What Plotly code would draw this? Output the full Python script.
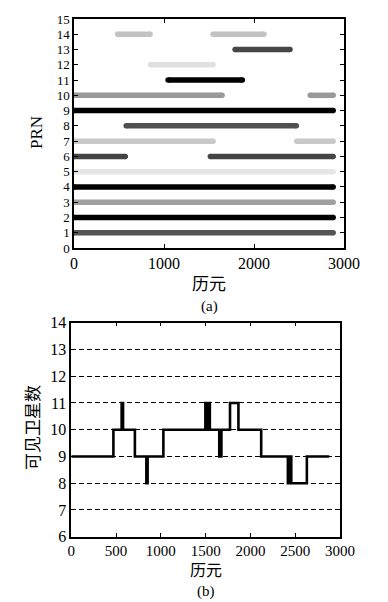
import plotly.graph_objects as go

# ---- data: panel (a) visibility intervals ----
prn_ids = [14, 14, 13, 12, 11, 10, 10, 9, 8, 7, 7, 6, 6, 5, 4, 3, 2, 1]
seg_start = [485, 1545, 1790, 850, 1045, 0, 2625, 0, 580, 0, 2475, 0, 1515, 0, 0, 0, 0, 0]
seg_end = [845, 2110, 2400, 1545, 1870, 1645, 2880, 2880, 2470, 1545, 2880, 570, 2880, 2880, 2880, 2880, 2880, 2880]
prn_colors = {14: "#c2c2c2", 13: "#474747", 12: "#e0e0e0", 11: "#000000", 10: "#999999",
              9: "#000000", 8: "#505050", 7: "#c9c9c9", 6: "#454545", 5: "#e6e6e6",
              4: "#000000", 3: "#a0a0a0", 2: "#000000", 1: "#555555"}

# ---- data: panel (b) visible satellite count ----
epochs = [0, 470, 562, 578, 710, 838, 852, 1028, 1497, 1507, 1517, 1527, 1537, 1547,
          1652, 1676, 1772, 1866, 2120, 2418, 2442, 2456, 2630, 2880]
counts = [9, 10, 11, 10, 9, 8, 9, 10, 11, 10, 11, 10, 11, 10,
          9, 10, 11, 10, 9, 8, 9, 8, 9, 9]

xa_ticks = [0, 1000, 2000, 3000]
ya_ticks = list(range(0, 16))
xb_ticks = [0, 500, 1000, 1500, 2000, 2500, 3000]
yb_ticks = list(range(6, 15))

# page body has an 8px margin; figure is sized to fit the window
OFF = 8
W, H = 388 - OFF, 602 - OFF
FONT = "Liberation Serif, Times New Roman, Noto Sans CJK SC, serif"

fig = go.Figure()

for p, s, e in zip(prn_ids, seg_start, seg_end):
    c = prn_colors[p]
    fig.add_trace(go.Scatter(x=[s, e], y=[p, p], mode="lines+markers",
                             line=dict(color=c, width=5.5),
                             marker=dict(color=c, size=5.5, line=dict(width=0)),
                             xaxis="x", yaxis="y", showlegend=False, hoverinfo="skip"))

fig.add_trace(go.Scatter(x=epochs, y=counts, mode="lines", line=dict(color="black", width=2.6, shape="hv"),
                         xaxis="x2", yaxis="y2", showlegend=False))

def px2x(px):
    return (px - OFF) / W

def py2y(py):
    return 1 - (py - OFF) / H

axis_common = dict(showline=True, linecolor="black", linewidth=1.5, mirror="ticks",
                   ticks="inside", ticklen=4, tickwidth=1.2, tickcolor="black",
                   zeroline=False, automargin=False)

def tf(size):
    return dict(family=FONT, size=size, color="black")

def label(text, px, py, size, angle=0):
    return dict(text=text, x=px2x(px), y=py2y(py), xref="paper", yref="paper",
                xanchor="center", yanchor="middle", showarrow=False, textangle=angle,
                font=tf(size))

fig.update_layout(
    width=W, height=H,
    margin=dict(l=0, r=0, t=0, b=0, autoexpand=False),
    paper_bgcolor="white", plot_bgcolor="white",
    xaxis=dict(domain=[px2x(74), px2x(344)], range=[0, 3000], tickvals=xa_ticks,
               anchor="y", showgrid=False, tickfont=tf(16), **axis_common),
    yaxis=dict(domain=[py2y(248), py2y(19)], range=[0, 15], tickvals=ya_ticks,
               anchor="x", showgrid=False, tickfont=tf(13), **axis_common),
    xaxis2=dict(domain=[px2x(71.3), px2x(340)], range=[0, 3000], tickvals=xb_ticks,
                anchor="y2", showgrid=False, tickfont=tf(15), **axis_common),
    yaxis2=dict(domain=[py2y(536.7), py2y(322.7)], range=[6, 14], tickvals=yb_ticks,
                anchor="x2", tickfont=tf(16), **axis_common,
                showgrid=True, gridcolor="black", gridwidth=1.3, griddash="5px,3px"),
    annotations=[
        label("历元", 209, 284, 17),
        label("(a)", 209, 306, 15),
        label("PRN", 37, 133, 17, -90),
        label("历元", 205.7, 570, 16),
        label("(b)", 205.7, 591, 15),
        label("可见卫星数", 33, 428, 17, -90),
    ],
)

fig.write_html("out.html")
